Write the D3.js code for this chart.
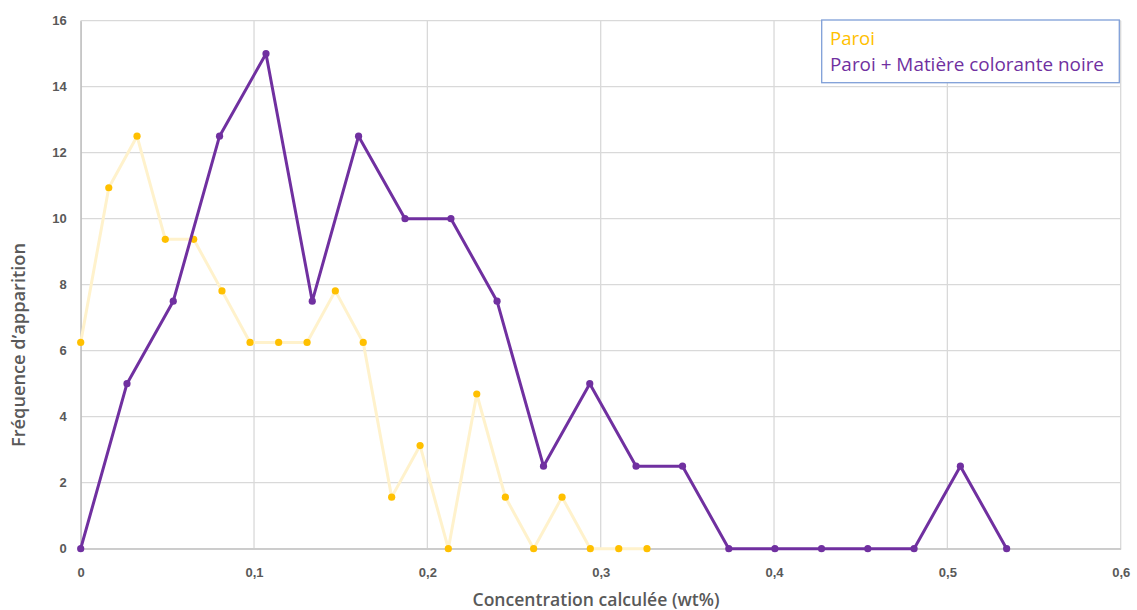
<!DOCTYPE html>
<html><head><meta charset="utf-8">
<script src="https://cdn.jsdelivr.net/npm/d3@7"></script>
<style>body{margin:0;background:#fff}svg{display:block}</style>
</head><body>
<svg id="c" width="1137" height="610"></svg>
<script>
const paroiX = [0, 0.0162, 0.0325, 0.0488, 0.0652, 0.0815, 0.0977, 0.1142, 0.1306, 0.1469, 0.1630, 0.1794, 0.1958, 0.2121, 0.2285, 0.2450, 0.2613, 0.2777, 0.2940, 0.3104, 0.3267];
const paroiY = [6.25, 10.9375, 12.5, 9.375, 9.375, 7.8125, 6.25, 6.25, 6.25, 7.8125, 6.25, 1.5625, 3.125, 0, 4.6875, 1.5625, 0, 1.5625, 0, 0, 0];
const noireX = [0, 0.0267, 0.0534, 0.0801, 0.1069, 0.1336, 0.1603, 0.1871, 0.2136, 0.2402, 0.2670, 0.2937, 0.3204, 0.3472, 0.3739, 0.4005, 0.4274, 0.4541, 0.4808, 0.5075, 0.5342];
const noireY = [0, 5, 7.5, 12.5, 15, 7.5, 12.5, 10, 10, 7.5, 2.5, 5, 2.5, 2.5, 0, 0, 0, 0, 0, 2.5, 0];
const xTicks = [0, 0.1, 0.2, 0.3, 0.4, 0.5, 0.6];
const yTicks = [0, 2, 4, 6, 8, 10, 12, 14, 16];
const seriesNames = ["Paroi", "Paroi + Matière colorante noire"];

const svg = d3.select("#c");
const x = d3.scaleLinear().domain([0, 0.6]).range([80.7, 1120.7]);
const y = d3.scaleLinear().domain([0, 16]).range([548.7, 20.7]);
const fmt = d => String(d).replace(".", ",");
const grey = "#595959";

// gridlines
svg.append("g").selectAll("line.h").data(yTicks).join("line")
  .attr("x1", x(0)).attr("x2", x(0.6)).attr("y1", d => y(d)).attr("y2", d => y(d))
  .attr("stroke", "#d9d9d9").attr("stroke-width", 1.3);
svg.append("g").selectAll("line.v").data(xTicks).join("line")
  .attr("y1", y(0)).attr("y2", y(16)).attr("x1", d => x(d)).attr("x2", d => x(d))
  .attr("stroke", "#d9d9d9").attr("stroke-width", 1.3);

// axes
const xAxis = svg.append("g").attr("transform", `translate(0,${y(0)})`)
  .call(d3.axisBottom(x).tickValues(xTicks).tickFormat(fmt).tickSize(0).tickPadding(19));
xAxis.select(".domain").attr("stroke", "#bfbfbf").attr("stroke-width", 1.3);
const yAxis = svg.append("g").attr("transform", `translate(${x(0)},0)`)
  .call(d3.axisLeft(y).tickValues(yTicks).tickFormat(fmt).tickSize(0).tickPadding(14));
yAxis.select(".domain").attr("stroke", "#bfbfbf").attr("stroke-width", 1.3);
svg.selectAll(".tick text").attr("font-family", "Liberation Sans, Arial, sans-serif")
  .attr("font-size", 13).attr("font-weight", "bold").attr("fill", grey);

// lines
const line = d3.line().x(d => x(d[0])).y(d => y(d[1]));
const paroi = paroiX.map((v, i) => [v, paroiY[i]]);
const noire = noireX.map((v, i) => [v, noireY[i]]);

svg.append("path").datum(paroi).attr("d", line).attr("fill", "none")
  .attr("stroke", "#FFF2CC").attr("stroke-width", 3).attr("stroke-linejoin", "round");
svg.append("g").selectAll("circle").data(paroi).join("circle")
  .attr("cx", d => x(d[0])).attr("cy", d => y(d[1])).attr("r", 3.6).attr("fill", "#FFC000");

svg.append("path").datum(noire).attr("d", line).attr("fill", "none")
  .attr("stroke", "#7030A0").attr("stroke-width", 3).attr("stroke-linejoin", "round");
svg.append("g").selectAll("circle").data(noire).join("circle")
  .attr("cx", d => x(d[0])).attr("cy", d => y(d[1])).attr("r", 3.6).attr("fill", "#7030A0");

// axis titles
svg.append("text").attr("x", 596).attr("y", 606).attr("text-anchor", "middle")
  .attr("font-family", "Open Sans, sans-serif").attr("font-size", 18).attr("font-weight", "600")
  .attr("fill", grey).attr("textLength", 247).attr("lengthAdjust", "spacingAndGlyphs")
  .text("Concentration calculée (wt%)");
svg.append("text").attr("transform", `translate(25,345) rotate(-90)`)
  .attr("text-anchor", "middle").attr("font-family", "Open Sans, sans-serif")
  .attr("font-size", 18).attr("font-weight", "600").attr("fill", grey)
  .attr("textLength", 204).attr("lengthAdjust", "spacingAndGlyphs")
  .text("Fréquence d’apparition");

// legend
const lg = svg.append("g");
lg.append("rect").attr("x", 821.7).attr("y", 20).attr("width", 297.6).attr("height", 62.7)
  .attr("fill", "#fff").attr("stroke", "#7F9FD8").attr("stroke-width", 1.3);
const legW = [45, 274];
lg.selectAll("text").data(seriesNames).join("text")
  .attr("x", 830).attr("y", (d, i) => 45 + i * 26)
  .attr("font-family", "Open Sans, sans-serif").attr("font-size", 18)
  .attr("textLength", (d, i) => legW[i]).attr("lengthAdjust", "spacingAndGlyphs")
  .attr("fill", (d, i) => i === 0 ? "#FFC000" : "#7030A0").text(d => d);
</script>
</body></html>
